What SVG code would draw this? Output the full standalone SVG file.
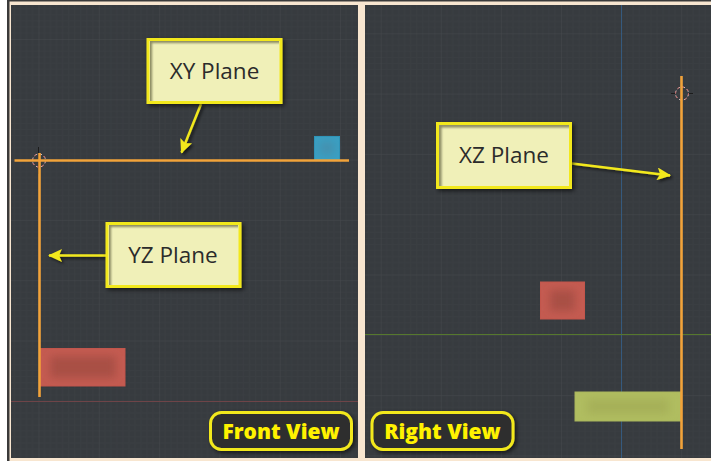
<svg xmlns="http://www.w3.org/2000/svg" width="711" height="461" viewBox="0 0 711 461">
<defs>
<pattern id="gridL" patternUnits="userSpaceOnUse" x="38.5" y="39" width="60.3" height="60.3">
<path d="M6.03 0V60.3M12.06 0V60.3M18.09 0V60.3M24.12 0V60.3M30.15 0V60.3M36.18 0V60.3M42.21 0V60.3M48.24 0V60.3M54.27 0V60.3M0 6.03H60.3M0 12.06H60.3M0 18.09H60.3M0 24.12H60.3M0 30.15H60.3M0 36.18H60.3M0 42.21H60.3M0 48.24H60.3M0 54.27H60.3" stroke="#3a3e42" stroke-width="1" fill="none"/>
<path d="M0 0V60.3M0 0H60.3" stroke="#46494d" stroke-width="1" fill="none"/>
</pattern>
<pattern id="gridR" patternUnits="userSpaceOnUse" x="380.7" y="33.3" width="60.1" height="60.3">
<path d="M6 0V60.3M12 0V60.3M18 0V60.3M24 0V60.3M30 0V60.3M36 0V60.3M42 0V60.3M48 0V60.3M54 0V60.3M0 6.03H60.1M0 12.06H60.1M0 18.09H60.1M0 24.12H60.1M0 30.15H60.1M0 36.18H60.1M0 42.21H60.1M0 48.24H60.1M0 54.27H60.1" stroke="#3a3e42" stroke-width="1" fill="none"/>
<path d="M0 0V60.3M0 0H60.1" stroke="#46494d" stroke-width="1" fill="none"/>
</pattern>
<filter id="shadow" x="-20%" y="-20%" width="140%" height="140%"><feDropShadow dx="2" dy="2" stdDeviation="2" flood-color="#000" flood-opacity="0.6"/></filter>
<filter id="arrowShadow" filterUnits="userSpaceOnUse" x="0" y="0" width="711" height="461"><feDropShadow dx="2" dy="2" stdDeviation="1.5" flood-color="#000" flood-opacity="0.6"/></filter>
<filter id="soft" x="-40%" y="-40%" width="180%" height="180%"><feGaussianBlur stdDeviation="4"/></filter>
<filter id="inner" x="-10%" y="-10%" width="120%" height="120%"><feGaussianBlur stdDeviation="1"/></filter>
<marker id="head" markerUnits="userSpaceOnUse" viewBox="0 0 14 13" refX="13" refY="6.5" markerWidth="14" markerHeight="13" orient="auto"><path d="M0 0L14 6.5L0 13L3 6.5Z" fill="#f2e81f"/></marker>
<clipPath id="cXY"><rect x="150" y="41" width="129" height="60"/></clipPath>
<clipPath id="cYZ"><rect x="109" y="225" width="129" height="60"/></clipPath>
<clipPath id="cXZ"><rect x="439" y="125" width="130" height="61"/></clipPath>
</defs>
<style>
.panel{fill:#373b3f}
.box{fill:#f0f0b8;stroke:#f2e81f;stroke-width:3}
.inset{fill:none;stroke:#8a8a62;stroke-width:4;filter:url(#inner)}
.label{font-family:"Open Sans","Noto Sans",sans-serif;font-size:22.5px;fill:#2b2b2b;text-anchor:middle}
.badge{fill:#2e2f2f;stroke:#f2e81f;stroke-width:3}
.badgeText{font-family:"Open Sans","Noto Sans",sans-serif;font-weight:800;font-size:21px;fill:#fff200;text-anchor:middle}
.plane{stroke:#f2a33a;stroke-width:2.6;fill:none}
.conn{stroke:#f2e81f;stroke-width:2.5;fill:none;marker-end:url(#head)}
</style>
<rect width="711" height="461" fill="#f8e6d0"/>
<rect x="0" y="0" width="7" height="461" fill="#ffffff"/>
<rect x="7" y="0" width="704" height="1.5" fill="#3a3a3a"/>
<rect x="7" y="0" width="2.5" height="461" fill="#3a3a3a"/>

<g id="front-view">
<rect class="panel" x="11" y="5" width="347" height="453"/>
<rect x="11" y="5" width="347" height="453" fill="url(#gridL)"/>
<path d="M11 401.5H358" stroke="#6e4448" stroke-width="1"/>
<rect x="314.5" y="136.5" width="25" height="24" fill="#3a9fc2" stroke="#2f94b8"/>
<ellipse cx="327" cy="148" rx="8" ry="7" fill="#4590ae" filter="url(#soft)"/>
<rect x="40.5" y="348.5" width="84.5" height="37.5" fill="#c45b51" stroke="#c2564c"/>
<rect x="50" y="356" width="66" height="22" fill="#a94f45" filter="url(#soft)"/>
<circle cx="39" cy="160.5" r="6.5" fill="none" stroke="#d8c8c8" stroke-width="1" stroke-dasharray="3 2"/>
<circle cx="39" cy="160.5" r="6.5" fill="none" stroke="#c05050" stroke-width="1" stroke-dasharray="2 3"/>
<path d="M38.5 147V174" stroke="#1c1c1c" stroke-width="1"/>
<path class="plane" d="M14.5 160.5H349"/>
<path class="plane" d="M39.5 153V397"/>
</g>

<g id="right-view">
<rect class="panel" x="365" y="5" width="346" height="453"/>
<rect x="365" y="5" width="346" height="453" fill="url(#gridR)"/>
<path d="M621.5 5V458" stroke="#34608c" stroke-width="1" opacity="0.8"/>
<path d="M365 334.5H711" stroke="#56782e" stroke-width="1"/>
<rect x="540.5" y="282" width="44" height="37" fill="#c45b51" stroke="#c2564c"/>
<rect x="550" y="290" width="25" height="21" fill="#a94f45" filter="url(#soft)"/>
<rect x="575" y="392" width="106" height="29" fill="#b0bd60" stroke="#a9b55c"/>
<rect x="587" y="399" width="82" height="15" fill="#a6b058" filter="url(#soft)"/>
<circle cx="682" cy="93.5" r="6.5" fill="none" stroke="#d8c8c8" stroke-width="1" stroke-dasharray="3 2"/>
<circle cx="682" cy="93.5" r="6.5" fill="none" stroke="#c05050" stroke-width="1" stroke-dasharray="2 3"/>
<path d="M671 93.5H675M689 93.5H693" stroke="#1c1c1c" stroke-width="1"/>
<path class="plane" d="M681.5 76V449"/>
</g>

<g id="connectors" filter="url(#arrowShadow)">
<path class="conn" d="M201 104L181.5 152.5"/>
<path class="conn" d="M106 255.5H49"/>
<path class="conn" d="M572 163.5L670 175.5"/>
</g>

<g id="xy-plane">
<rect class="box" filter="url(#shadow)" x="148" y="39.5" width="133" height="63"/>
<g clip-path="url(#cXY)"><path class="inset" d="M150 103V41H281"/></g>
<text class="label" x="214.5" y="79">XY Plane</text>
</g>
<g id="yz-plane">
<rect class="box" filter="url(#shadow)" x="107" y="223.5" width="133" height="63"/>
<g clip-path="url(#cYZ)"><path class="inset" d="M109 287V225H240"/></g>
<text class="label" x="173" y="263">YZ Plane</text>
</g>
<g id="xz-plane">
<rect class="box" filter="url(#shadow)" x="437.5" y="123.5" width="133" height="64"/>
<g clip-path="url(#cXZ)"><path class="inset" d="M439.5 188V125.5H571"/></g>
<text class="label" x="504" y="163">XZ Plane</text>
</g>
<g id="front-view-label">
<rect class="badge" filter="url(#shadow)" x="210.5" y="412.5" width="141" height="37" rx="11"/>
<text class="badgeText" x="281" y="439">Front View</text>
</g>
<g id="right-view-label">
<rect class="badge" filter="url(#shadow)" x="372" y="412.5" width="141" height="37" rx="11"/>
<text class="badgeText" x="442.5" y="439">Right View</text>
</g>
</svg>
